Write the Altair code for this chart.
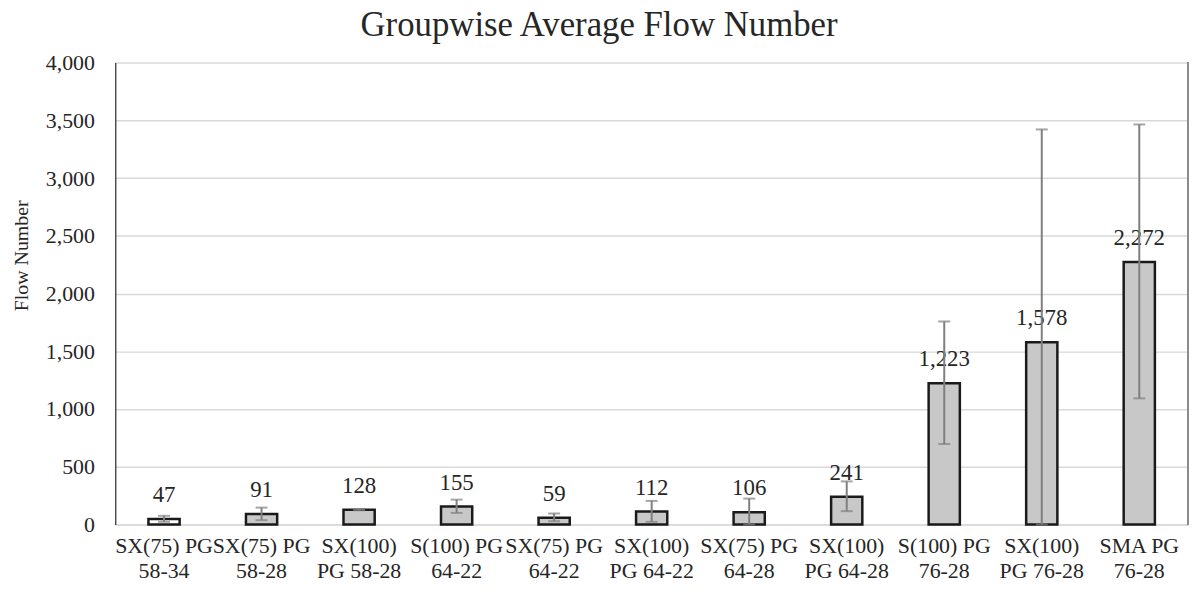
import altair as alt
import pandas as pd

categories = [
    "SX(75) PG\n58-34", "SX(75) PG\n58-28", "SX(100)\nPG 58-28", "S(100) PG\n64-22",
    "SX(75) PG\n64-22", "SX(100)\nPG 64-22", "SX(75) PG\n64-28", "SX(100)\nPG 64-28",
    "S(100) PG\n76-28", "SX(100)\nPG 76-28", "SMA PG\n76-28",
]
means = [47, 91, 128, 155, 59, 112, 106, 241, 1223, 1578, 2272]
err_low = [23, 37, 123, 100, 28, 23, 0, 115, 697, 0, 1092]
err_high = [75, 146, 133, 215, 95, 204, 224, 373, 1758, 3421, 3464]
fills = ["#ffffff", "#c8c8c8", "#c8c8c8", "#c8c8c8", "#c8c8c8", "#c8c8c8",
         "#c8c8c8", "#c8c8c8", "#c8c8c8", "#c8c8c8", "#c8c8c8"]
y_ticks = [0, 500, 1000, 1500, 2000, 2500, 3000, 3500, 4000]

df = pd.DataFrame({
    "cat": categories, "mean": means, "lo": err_low, "hi": err_high, "fill": fills,
})

FONT = "Liberation Serif"
TXT = "#262626"
W, H = 1080, 465

x = alt.X("cat:N", sort=categories, title=None,
          scale=alt.Scale(paddingInner=0.68, paddingOuter=0.34),
          axis=alt.Axis(labelAngle=0, labelFont=FONT, labelFontSize=22, labelColor=TXT,
                        labelExpr="split(datum.label, '\\n')", labelLineHeight=25,
                        labelPadding=11, ticks=False, domainColor="#d9d9d9", domainWidth=1.5,
                        labelLimit=200))

yscale = alt.Scale(domain=[0, 4000], nice=False)

bars = alt.Chart(df).mark_bar(stroke="#1a1a1a", strokeWidth=2.5).encode(
    x=x,
    y=alt.Y("mean:Q", scale=yscale, title="Flow Number",
            axis=alt.Axis(values=y_ticks, format=",.0f", labelFont=FONT,
                          labelFontSize=22, labelColor=TXT, titleFont=FONT,
                          titleFontSize=20, titleFontWeight="normal", titleColor=TXT,
                          titleX=-88, titleY=194, titleAngle=-90, titleAlign="center",
                          titleBaseline="alphabetic",
                          labelPadding=21, ticks=False, domainColor=TXT,
                          domainWidth=1.2, gridColor="#d9d9d9", gridWidth=1.5)),
    fill=alt.Fill("fill:N", scale=None),
)

labels = alt.Chart(df).mark_text(font=FONT, fontSize=23, color=TXT,
                                 baseline="alphabetic", dy=-17).encode(
    x=alt.X("cat:N", sort=categories),
    y=alt.Y("mean:Q", scale=yscale),
    text=alt.Text("mean:Q", format=",.0f"),
)

rules = alt.Chart(df).mark_rule(color="#7f7f7f", strokeWidth=2).encode(
    x=alt.X("cat:N", sort=categories),
    y=alt.Y("lo:Q", scale=yscale),
    y2="hi:Q",
)

caps_hi = alt.Chart(df).mark_tick(color="#7f7f7f", size=12, thickness=2).encode(
    x=alt.X("cat:N", sort=categories),
    y=alt.Y("hi:Q", scale=yscale),
)
caps_lo = alt.Chart(df).mark_tick(color="#7f7f7f", size=12, thickness=2).encode(
    x=alt.X("cat:N", sort=categories),
    y=alt.Y("lo:Q", scale=yscale),
)

border = alt.Chart(df).mark_rule(color="#8c8c8c", strokeWidth=1.5).encode(
    x=alt.value(W), y=alt.value(0), y2=alt.value(H),
)

chart = alt.layer(bars, labels, rules, caps_hi, caps_lo, border).properties(
    width=W, height=H,
    autosize=alt.AutoSizeParams(type="none"),
    padding={"left": 108, "top": 53, "right": 8, "bottom": 60},
    title=alt.TitleParams("Groupwise Average Flow Number", font=FONT, fontSize=35,
                          fontWeight="normal", color=TXT, anchor="middle",
                          dx=-53, offset=9),
).configure(font=FONT).configure_view(stroke=None)

chart.save("out.html", embed_options={"renderer": "svg", "actions": False})
